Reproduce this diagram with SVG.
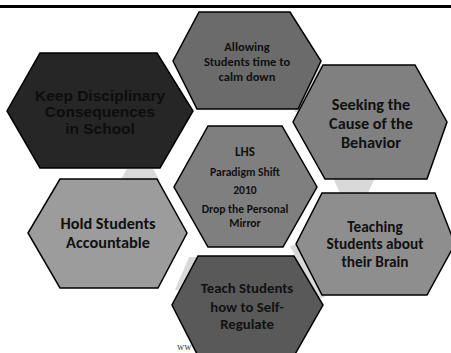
<svg xmlns="http://www.w3.org/2000/svg" width="451" height="353" viewBox="0 0 451 353">
<style>
.hex{stroke:#000;stroke-width:1.5;stroke-linejoin:miter}
.bg{fill:#d9d9d9}
.t{font-family:Carlito,Lato,"Liberation Sans",sans-serif;font-weight:bold;fill:#111;text-anchor:middle}
.a{font-family:"Liberation Sans",Arial,sans-serif;font-weight:bold;fill:#0d0d0d;text-anchor:middle}
</style>
<rect x="0" y="0" width="451" height="353" fill="#fff"/>
<rect x="0" y="5" width="451" height="3" fill="#000"/>
<g id="background">
<polygon class="bg" points="127,169 153,169 160,181 120,181"/>
<polygon class="bg" points="333,178 375,178 367,195 341,195"/>
<polygon class="bg" points="319,66 325,66 300,112 294,112"/>
<polygon class="bg" points="189,257 200,257 190,290 175,290"/>
<polygon class="bg" points="290,246 298,244 325,297 317,299"/>
</g>
<text x="177" y="350" font-family="'Liberation Serif',serif" font-size="10" fill="#444">ww</text>
<g id="node-allowing">
<polygon class="hex" fill="#6b6b6b" points="199,12 290,12 321,61 298,109 197,109 173,61"/>
<text class="t" font-size="12.5" x="247" y="51">Allowing</text>
<text class="t" font-size="12.5" x="247" y="66">Students time to</text>
<text class="t" font-size="12.5" x="247" y="81">calm down</text>
</g>
<g id="node-keep">
<polygon class="hex" fill="#262626" points="40,53 157,53 193,111 160,168 40,168 7,111"/>
<text class="a" font-size="15.5" x="100" y="100.5">Keep Disciplinary</text>
<text class="a" font-size="15.5" x="100" y="117">Consequences</text>
<text class="a" font-size="15.5" x="100" y="133.7">in School</text>
</g>
<g id="node-seeking">
<polygon class="hex" fill="#808080" points="323,65 415,65 447,122 427,179 325,179 293,122"/>
<text class="t" font-size="16.3" x="371" y="110.3">Seeking the</text>
<text class="t" font-size="16.3" x="371" y="129">Cause of the</text>
<text class="t" font-size="16.3" x="371" y="147.7">Behavior</text>
</g>
<g id="node-center">
<polygon class="hex" fill="#7f7f7f" points="208,126 282,126 317,187 283,247 208,247 174,187"/>
<text class="t" font-size="13" x="245" y="156">LHS</text>
<text class="t" font-size="11.6" x="245" y="176">Paradigm Shift</text>
<text class="t" font-size="11.6" x="245" y="194">2010</text>
<text class="t" font-size="11.6" x="245" y="213">Drop the Personal</text>
<text class="t" font-size="11.6" x="245" y="227">Mirror</text>
</g>
<g id="node-hold">
<polygon class="hex" fill="#9c9c9c" points="60,179 157,179 187,233 158,288 60,288 28,233"/>
<text class="t" font-size="16.3" x="108" y="228.8">Hold Students</text>
<text class="t" font-size="16.3" x="108" y="247.5">Accountable</text>
</g>
<g id="node-teaching">
<polygon class="hex" fill="#8e8e8e" points="322,193 435,193 455,244 427,295 322,295 296,244"/>
<text class="t" font-size="15.3" x="375" y="232">Teaching</text>
<text class="t" font-size="15.3" x="375" y="249.3">Students about</text>
<text class="t" font-size="15.3" x="375" y="266.5">their Brain</text>
</g>
<g id="node-selfregulate">
<polygon class="hex" fill="#595959" points="198,256 294,256 323,305 294,356 198,356 172,305"/>
<text class="t" font-size="14.8" x="247" y="293.3">Teach Students</text>
<text class="t" font-size="14.8" x="247" y="311.6">how to Self-</text>
<text class="t" font-size="14.8" x="247" y="329">Regulate</text>
</g>
</svg>
